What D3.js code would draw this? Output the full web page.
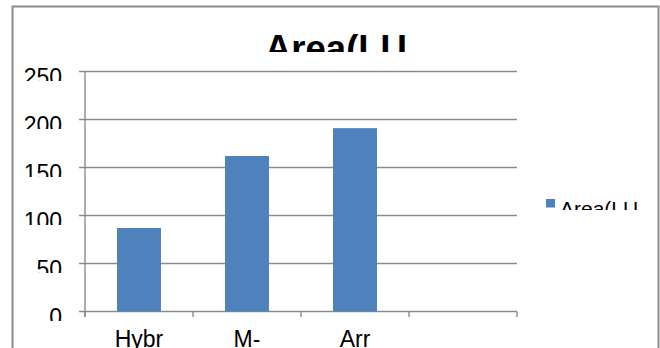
<!DOCTYPE html>
<html><head><meta charset="utf-8">
<script src="https://cdn.jsdelivr.net/npm/d3@7"></script>
<style>html,body{margin:0;padding:0;background:#fff;overflow:hidden}</style>
</head><body>
<script>
const categories = ["Hybr", "M-", "Arr", ""];
const values = [87, 162, 191, null];
const yTicks = [0, 50, 100, 150, 200, 250];
const titleText = "Area(LU";
const legendText = "Area(LU";

const W = 660, H = 348;
const font = "'Liberation Sans', Arial, sans-serif";
const svg = d3.select("body").append("svg").attr("width", W).attr("height", H);
const defs = svg.append("defs");

// chart border
svg.append("rect").attr("x", 12.5).attr("y", 6.5).attr("width", 646).attr("height", 420)
  .attr("fill", "#fff").attr("stroke", "#8c8c8c").attr("stroke-width", 2);

const x = d3.scaleBand().domain(categories).range([85, 517]).padding(0);
const y = d3.scaleLinear().domain([0, 250]).range([311.5, 71.5]);
const grid = "#8a8a8a";

// gridlines with left ticks
svg.append("g").selectAll("line").data(yTicks).join("line")
  .attr("x1", 79).attr("x2", 517)
  .attr("y1", d => y(d)).attr("y2", d => y(d))
  .attr("stroke", grid).attr("stroke-width", 1.4);

// y axis line
svg.append("line").attr("x1", 85).attr("x2", 85).attr("y1", y(250)).attr("y2", y(0) + 5.5)
  .attr("stroke", grid).attr("stroke-width", 1.4);

// x ticks at band boundaries
const bounds = categories.map(c => x(c)).concat([x.range()[1]]);
svg.append("g").selectAll("line").data(bounds).join("line")
  .attr("x1", d => d).attr("x2", d => d).attr("y1", y(0)).attr("y2", y(0) + 5.5)
  .attr("stroke", grid).attr("stroke-width", 1.4);

// bars
const barFrac = 0.407;
svg.append("g").selectAll("rect").data(categories.map((c, i) => ({c, v: values[i]})).filter(d => d.v != null))
  .join("rect")
  .attr("x", d => x(d.c) + x.bandwidth() * (1 - barFrac) / 2)
  .attr("width", x.bandwidth() * barFrac)
  .attr("y", d => y(d.v)).attr("height", d => y(0) - y(d.v))
  .attr("fill", "#4f81bd");

// y tick labels (clipped like the reference)
yTicks.forEach((t, i) => {
  const id = "cy" + i;
  defs.append("clipPath").attr("id", id).append("rect")
    .attr("x", 0).attr("y", y(t) - 10).attr("width", 75).attr("height", 19.5);
  svg.append("text").attr("clip-path", `url(#${id})`)
    .attr("x", 62).attr("y", y(t) + 13).attr("text-anchor", "end")
    .attr("font-family", font).attr("font-size", 23).attr("fill", "#000").text(t);
});

// x labels
svg.append("g").selectAll("text").data(categories).join("text")
  .attr("x", d => x(d) + x.bandwidth() / 2).attr("y", 347)
  .attr("text-anchor", "middle").attr("font-family", font).attr("font-size", 23)
  .attr("fill", "#000").text(d => d);

// title (clipped)
defs.append("clipPath").attr("id", "ct").append("rect").attr("x", 0).attr("y", 0).attr("width", W).attr("height", 52);
svg.append("text").attr("clip-path", "url(#ct)").attr("x", 336).attr("y", 61)
  .attr("text-anchor", "middle").attr("font-family", font).attr("font-weight", "bold")
  .attr("font-size", 36.5).attr("fill", "#000").text(titleText);

// legend
svg.append("rect").attr("x", 546).attr("y", 199).attr("width", 9).attr("height", 8.5).attr("fill", "#4f81bd");
defs.append("clipPath").attr("id", "cl").append("rect").attr("x", 540).attr("y", 190).attr("width", 115).attr("height", 20);
svg.append("text").attr("clip-path", "url(#cl)").attr("x", 560).attr("y", 216)
  .attr("font-family", font).attr("font-size", 21).attr("fill", "#000").text(legendText);
</script>
</body></html>
